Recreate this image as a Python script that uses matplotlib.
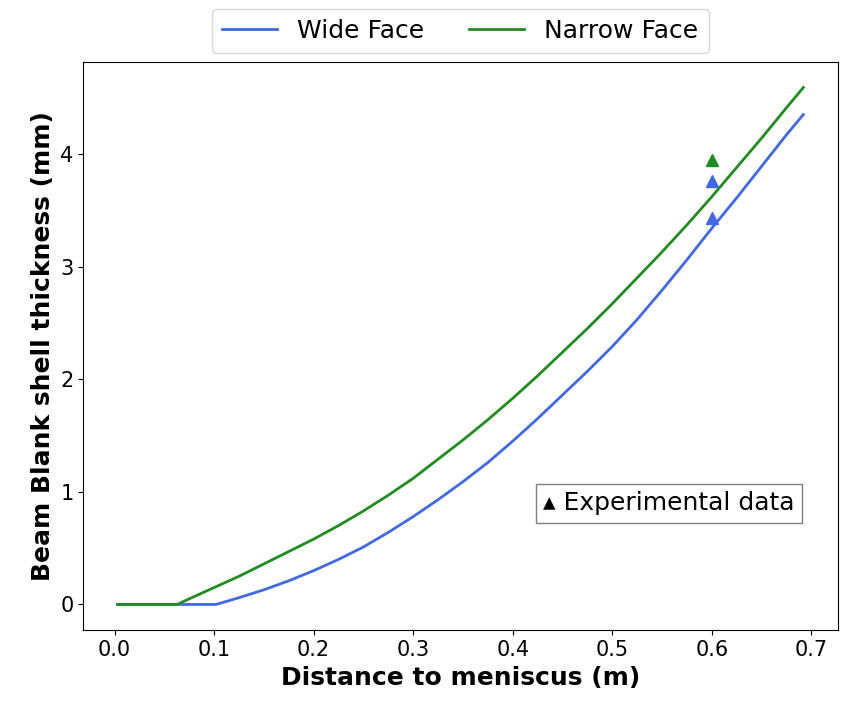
import matplotlib.pyplot as plt

# curve readings (distance to meniscus in m, shell thickness in mm)
wide_x = [0.003, 0.102, 0.125, 0.15, 0.175, 0.2, 0.225, 0.25, 0.275, 0.3, 0.325, 0.35, 0.375,
          0.4, 0.425, 0.45, 0.475, 0.5, 0.525, 0.55, 0.575, 0.6, 0.625, 0.65, 0.675, 0.692]
wide_y = [0.0, 0.0, 0.06, 0.13, 0.21, 0.30, 0.40, 0.51, 0.64, 0.78, 0.93, 1.09, 1.26,
          1.45, 1.65, 1.86, 2.07, 2.29, 2.53, 2.79, 3.06, 3.34, 3.61, 3.89, 4.17, 4.35]

narrow_x = [0.003, 0.063, 0.075, 0.1, 0.125, 0.15, 0.175, 0.2, 0.225, 0.25, 0.275, 0.3, 0.325,
            0.35, 0.375, 0.4, 0.425, 0.45, 0.475, 0.5, 0.525, 0.55, 0.575, 0.6, 0.625, 0.65,
            0.675, 0.692]
narrow_y = [0.0, 0.0, 0.05, 0.15, 0.25, 0.36, 0.47, 0.58, 0.70, 0.83, 0.97, 1.12, 1.29,
            1.46, 1.64, 1.83, 2.03, 2.24, 2.45, 2.67, 2.90, 3.13, 3.37, 3.62, 3.88, 4.14,
            4.41, 4.59]

# experimental points
exp_wide_x = [0.6, 0.6]
exp_wide_y = [3.76, 3.43]
exp_narrow_x = [0.6]
exp_narrow_y = [3.95]

fig = plt.figure(figsize=(8.41, 7.09), dpi=100)
ax = fig.add_axes([0.099, 0.111, 0.897, 0.802])

ax.plot(wide_x, wide_y, color="royalblue", lw=2, label="Wide Face")
ax.plot(narrow_x, narrow_y, color="forestgreen", lw=2, label="Narrow Face")
ax.plot(exp_wide_x, exp_wide_y, "^", color="royalblue", ms=8)
ax.plot(exp_narrow_x, exp_narrow_y, "^", color="forestgreen", ms=8)

ax.text(0.557, 0.9, "\u25b4 Experimental data", fontsize=18, ha="center", va="center",
        bbox=dict(boxstyle="square,pad=0.3", fc="white", ec="gray"))

ax.set_xlabel("Distance to meniscus (m)", fontsize=18, fontweight="bold")
ax.set_ylabel("Beam Blank shell thickness (mm)", fontsize=18, fontweight="bold")
ax.tick_params(labelsize=15)
ax.set_yticks([0, 1, 2, 3, 4])

ax.legend(loc="upper center", bbox_to_anchor=(0.5, 1.115), ncol=2, fontsize=18,
          handlelength=2.2, columnspacing=1.8)

plt.savefig("out.png")
plt.close()
